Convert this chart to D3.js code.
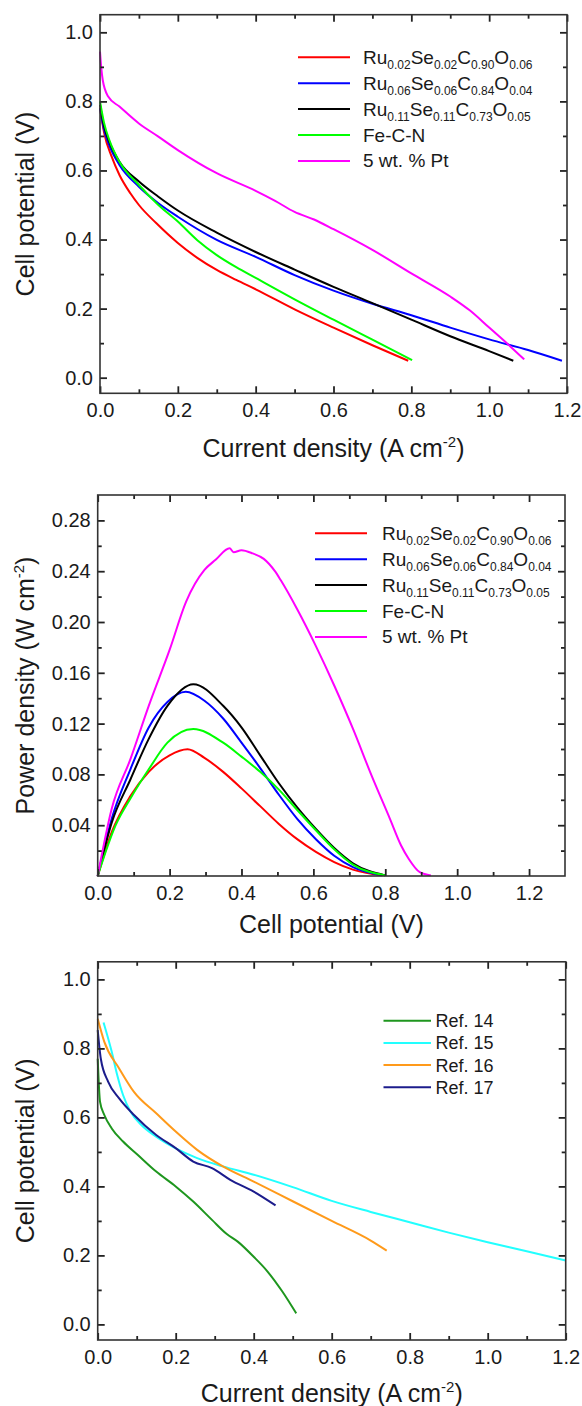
<!DOCTYPE html>
<html>
<head>
<meta charset="utf-8">
<script src="https://cdn.jsdelivr.net/npm/d3@7/dist/d3.min.js"></script>
<style>
  body { margin: 0; background: #fff; }
  svg { display: block; font-family: "Liberation Sans", Arial, sans-serif; }
</style>
</head>
<body>
<svg id="chart" width="582" height="1406"></svg>
<script>
// ---- panel 1 : polarisation curves (current density, cell potential) ----
const ivRu002 = [[0,0.78],[0.011,0.707],[0.03,0.64],[0.05,0.587],[0.078,0.534],[0.1,0.5],[0.145,0.447],[0.2,0.39],[0.25,0.347],[0.3,0.312],[0.35,0.283],[0.4,0.256],[0.5,0.198],[0.6,0.145],[0.7,0.094],[0.792,0.049]];
const ivRu006 = [[0,0.78],[0.01,0.72],[0.025,0.67],[0.05,0.616],[0.1,0.553],[0.15,0.505],[0.2,0.466],[0.3,0.399],[0.4,0.35],[0.5,0.297],[0.6,0.252],[0.7,0.214],[0.8,0.181],[0.9,0.145],[1.0,0.111],[1.1,0.08],[1.187,0.049]];
const ivRu011 = [[0,0.79],[0.01,0.73],[0.025,0.68],[0.05,0.625],[0.1,0.568],[0.15,0.524],[0.2,0.484],[0.3,0.42],[0.4,0.364],[0.5,0.313],[0.6,0.263],[0.7,0.216],[0.8,0.168],[0.9,0.12],[1.0,0.077],[1.062,0.049]];
const ivFeCN  = [[0,0.80],[0.01,0.74],[0.025,0.685],[0.05,0.625],[0.1,0.558],[0.15,0.5],[0.2,0.452],[0.25,0.398],[0.3,0.355],[0.35,0.32],[0.4,0.289],[0.5,0.227],[0.6,0.168],[0.7,0.11],[0.802,0.051]];
const ivPt    = [[0,0.944],[0.003,0.9],[0.007,0.862],[0.021,0.814],[0.05,0.785],[0.1,0.736],[0.15,0.698],[0.2,0.659],[0.3,0.592],[0.4,0.541],[0.45,0.512],[0.5,0.48],[0.55,0.458],[0.6,0.43],[0.7,0.37],[0.8,0.302],[0.9,0.235],[0.95,0.195],[1.0,0.145],[1.05,0.095],[1.09,0.053]];

// ---- panel 2 : power density vs cell potential ----
const pwRu002 = [[0,0],[0.039,0.0345],[0.091,0.063],[0.142,0.082],[0.2,0.095],[0.25,0.0998],[0.297,0.093],[0.349,0.082],[0.4,0.069],[0.452,0.055],[0.504,0.041],[0.555,0.029],[0.607,0.019],[0.658,0.011],[0.71,0.005],[0.79,0.0005]];
const pwRu006 = [[0,0],[0.039,0.045],[0.091,0.084],[0.142,0.117],[0.194,0.137],[0.245,0.145],[0.297,0.138],[0.349,0.124],[0.4,0.105],[0.452,0.085],[0.504,0.064],[0.555,0.045],[0.607,0.029],[0.658,0.016],[0.71,0.007],[0.79,0.0005]];
const pwRu011 = [[0,0],[0.039,0.042],[0.091,0.076],[0.142,0.108],[0.194,0.134],[0.266,0.151],[0.349,0.134],[0.4,0.117],[0.452,0.095],[0.504,0.073],[0.555,0.054],[0.607,0.037],[0.658,0.022],[0.71,0.01],[0.8,0.0005]];
const pwFeCN  = [[0,0],[0.05,0.04],[0.091,0.061],[0.142,0.084],[0.194,0.105],[0.266,0.1157],[0.349,0.105],[0.4,0.094],[0.452,0.082],[0.504,0.068],[0.555,0.052],[0.607,0.036],[0.658,0.021],[0.71,0.009],[0.8,0.0005]];
const pwPt    = [[0,0],[0.039,0.053],[0.091,0.092],[0.142,0.134],[0.2,0.178],[0.246,0.216],[0.297,0.241],[0.328,0.249],[0.367,0.258],[0.378,0.255],[0.4,0.2565],[0.431,0.254],[0.462,0.2497],[0.493,0.24],[0.509,0.233],[0.555,0.21],[0.607,0.181],[0.658,0.15],[0.71,0.116],[0.762,0.079],[0.813,0.045],[0.844,0.024],[0.865,0.0136],[0.896,0.003],[0.927,0.0005]];

// ---- panel 3 : literature polarisation curves ----
const ref14 = [[0,0.77],[0.006,0.645],[0.017,0.607],[0.036,0.568],[0.065,0.53],[0.103,0.491],[0.15,0.443],[0.2,0.4],[0.245,0.356],[0.293,0.303],[0.331,0.262],[0.359,0.24],[0.4,0.196],[0.435,0.154],[0.473,0.096],[0.509,0.032]];
const ref15 = [[0.015,0.875],[0.036,0.79],[0.05,0.723],[0.065,0.665],[0.084,0.617],[0.112,0.578],[0.15,0.544],[0.2,0.51],[0.255,0.482],[0.321,0.458],[0.4,0.434],[0.5,0.398],[0.6,0.358],[0.7,0.326],[0.8,0.296],[0.9,0.266],[1.0,0.238],[1.1,0.212],[1.2,0.185]];
const ref16 = [[0,0.886],[0.017,0.819],[0.055,0.742],[0.093,0.674],[0.15,0.612],[0.2,0.559],[0.255,0.506],[0.321,0.458],[0.4,0.414],[0.5,0.357],[0.6,0.3],[0.7,0.243],[0.741,0.214]];
const ref17 = [[0,0.853],[0.008,0.77],[0.027,0.703],[0.055,0.655],[0.093,0.607],[0.15,0.549],[0.2,0.511],[0.245,0.472],[0.293,0.453],[0.34,0.419],[0.4,0.385],[0.456,0.345]];

// names, colours, ticks
const catalystNames = ['Ru0.02Se0.02C0.90O0.06', 'Ru0.06Se0.06C0.84O0.04', 'Ru0.11Se0.11C0.73O0.05', 'Fe-C-N', '5 wt. % Pt'];
const catalystColors = ['#ff0000', '#0000ff', '#000000', '#00ff00', '#ff00ff'];
const refNames = ['Ref. 14', 'Ref. 15', 'Ref. 16', 'Ref. 17'];
const refColors = ['#1e961e', '#22ffff', '#ff9a1a', '#1c1c8c'];

const currentTicks = [0, 0.2, 0.4, 0.6, 0.8, 1.0, 1.2];
const currentMinor = [0.1, 0.3, 0.5, 0.7, 0.9, 1.1];
const potentialTicks = [0, 0.2, 0.4, 0.6, 0.8, 1.0];
const potentialMinor = [0.1, 0.3, 0.5, 0.7, 0.9];
const cellXTicks = [0, 0.2, 0.4, 0.6, 0.8, 1.0, 1.2];
const cellXMinor = [0.1, 0.3, 0.5, 0.7, 0.9, 1.1];
const powerTicks = [0.04, 0.08, 0.12, 0.16, 0.20, 0.24, 0.28];
const powerMinor = [0.02, 0.06, 0.10, 0.14, 0.18, 0.22, 0.26];

const svg = d3.select('#chart');
const ink = '#1a1a1a';

function panel(cfg) {
    const x = d3.scaleLinear().domain(cfg.xDomain).range([cfg.left, cfg.right]);
    const y = d3.scaleLinear().domain(cfg.yDomain).range([cfg.bottom, cfg.top]);
    const g = svg.append('g');

    // curves
    const line = d3.line()
        .x(d => x(d[0]))
        .y(d => y(d[1]))
        .curve(d3.curveMonotoneX);

    g.selectAll('.curve')
        .data(cfg.series)
        .join('path')
        .attr('d', d => line(d))
        .attr('fill', 'none')
        .attr('stroke', (d, i) => cfg.colors[i])
        .attr('stroke-width', 2)
        .attr('stroke-linejoin', 'round');

    // axes with inward ticks, all four sides
    const fmtX = d3.format(cfg.xFmt), fmtY = d3.format(cfg.yFmt);
    const axes = [
        [() => d3.axisBottom(x), cfg.bottom, 'x', cfg.xTicks, cfg.xMinor, fmtX],
        [() => d3.axisTop(x), cfg.top, 'x', cfg.xTicks, cfg.xMinor, null],
        [() => d3.axisLeft(y), cfg.left, 'y', cfg.yTicks, cfg.yMinor, fmtY],
        [() => d3.axisRight(y), cfg.right, 'y', cfg.yTicks, cfg.yMinor, null]
    ];
    axes.forEach(([mk, pos, dir, major, minor, fmt]) => {
        const tr = dir === 'x' ? `translate(0,${pos})` : `translate(${pos},0)`;
        const ag = g.append('g').attr('transform', tr)
            .call(mk().tickValues(major).tickSizeInner(-7).tickSizeOuter(0).tickPadding(dir === 'x' ? 10 : 7)
                .tickFormat(fmt ? fmt : ''));
        ag.select('.domain').remove();
        ag.selectAll('line').attr('stroke', '#222').attr('stroke-width', 1.8);
        ag.attr('font-size', 20).attr('font-family', null);
        ag.selectAll('text').attr('fill', ink);

        const mg = g.append('g').attr('transform', tr)
            .call(mk().tickValues(minor).tickSizeInner(-4).tickSizeOuter(0).tickFormat(''));
        mg.select('.domain').remove();
        mg.selectAll('line').attr('stroke', '#222').attr('stroke-width', 1.8);
    });

    g.append('rect')
        .attr('x', cfg.left).attr('y', cfg.top)
        .attr('width', cfg.right - cfg.left).attr('height', cfg.bottom - cfg.top)
        .attr('fill', 'none').attr('stroke', '#333').attr('stroke-width', 1.6);

    // axis titles
    const xt = g.append('text')
        .attr('x', (cfg.left + cfg.right) / 2).attr('y', cfg.xTitleY)
        .attr('text-anchor', 'middle').attr('font-size', 25).attr('fill', ink);
    addTitle(xt, cfg.xTitle);

    const yt = g.append('text')
        .attr('transform', `translate(34,${(cfg.top + cfg.bottom) / 2}) rotate(-90)`)
        .attr('text-anchor', 'middle').attr('font-size', 25).attr('fill', ink);
    addTitle(yt, cfg.yTitle);

    // legend
    const lg = g.append('g');
    cfg.names.forEach((name, i) => {
        const ly = cfg.legend.y + i * cfg.legend.step;
        lg.append('line')
            .attr('x1', cfg.legend.x1).attr('x2', cfg.legend.x2)
            .attr('y1', ly).attr('y2', ly)
            .attr('stroke', cfg.colors[i]).attr('stroke-width', 2);
        const t = lg.append('text')
            .attr('x', cfg.legend.tx).attr('y', ly + cfg.legend.base)
            .attr('font-size', cfg.legend.size).attr('fill', ink);
        // digits like 0.02 become subscripts
        name.split(/(\d\.\d\d)/).forEach((part, k) => {
            if (!part) return;
            if (k % 2 === 1) {
                t.append('tspan').attr('font-size', 12).attr('dy', 5).text(part);
            } else {
                t.append('tspan').attr('dy', k === 0 ? 0 : -5).text(part);
            }
        });
    });
}

// title text with an optional superscript written as ^{...}
function addTitle(t, str) {
    const m = str.match(/^(.*)\^\{(.*)\}(.*)$/);
    if (!m) { t.text(str); return; }
    t.append('tspan').text(m[1]);
    t.append('tspan').attr('font-size', 15).attr('dy', -10).text(m[2]);
    t.append('tspan').attr('dy', 10).text(m[3]);
}

panel({
    left: 100, right: 567, top: 14.7, bottom: 393.3,
    xDomain: [0, 1.2], yDomain: [-0.0452, 1.051],
    xTicks: currentTicks, xMinor: currentMinor, yTicks: potentialTicks, yMinor: potentialMinor,
    xFmt: '.1f', yFmt: '.1f',
    series: [ivRu002, ivRu006, ivRu011, ivFeCN, ivPt],
    colors: catalystColors, names: catalystNames,
    xTitle: 'Current density (A cm^{-2})', yTitle: 'Cell potential (V)', xTitleY: 457,
    legend: { x1: 298, x2: 350, tx: 363, y: 57.3, step: 25.9, base: 6.5, size: 19 }
});

panel({
    left: 97.7, right: 565, top: 495, bottom: 876,
    xDomain: [0, 1.3], yDomain: [0, 0.30],
    xTicks: cellXTicks, xMinor: cellXMinor, yTicks: powerTicks, yMinor: powerMinor,
    xFmt: '.1f', yFmt: '.2f',
    series: [pwRu002, pwRu006, pwRu011, pwFeCN, pwPt],
    colors: catalystColors, names: catalystNames,
    xTitle: 'Cell potential (V)', yTitle: 'Power density (W cm^{-2})', xTitleY: 933,
    legend: { x1: 315, x2: 367, tx: 382, y: 533.3, step: 25.9, base: 6.5, size: 19 }
});

panel({
    left: 97.7, right: 565.7, top: 961.8, bottom: 1340,
    xDomain: [0, 1.2], yDomain: [-0.0452, 1.051],
    xTicks: currentTicks, xMinor: currentMinor, yTicks: potentialTicks, yMinor: potentialMinor,
    xFmt: '.1f', yFmt: '.1f',
    series: [ref14, ref15, ref16, ref17],
    colors: refColors, names: refNames,
    xTitle: 'Current density (A cm^{-2})', yTitle: 'Cell potential (V)', xTitleY: 1402,
    legend: { x1: 383.5, x2: 431, tx: 435.6, y: 1020.7, step: 22.2, base: 6.5, size: 18 }
});
</script>
</body>
</html>
